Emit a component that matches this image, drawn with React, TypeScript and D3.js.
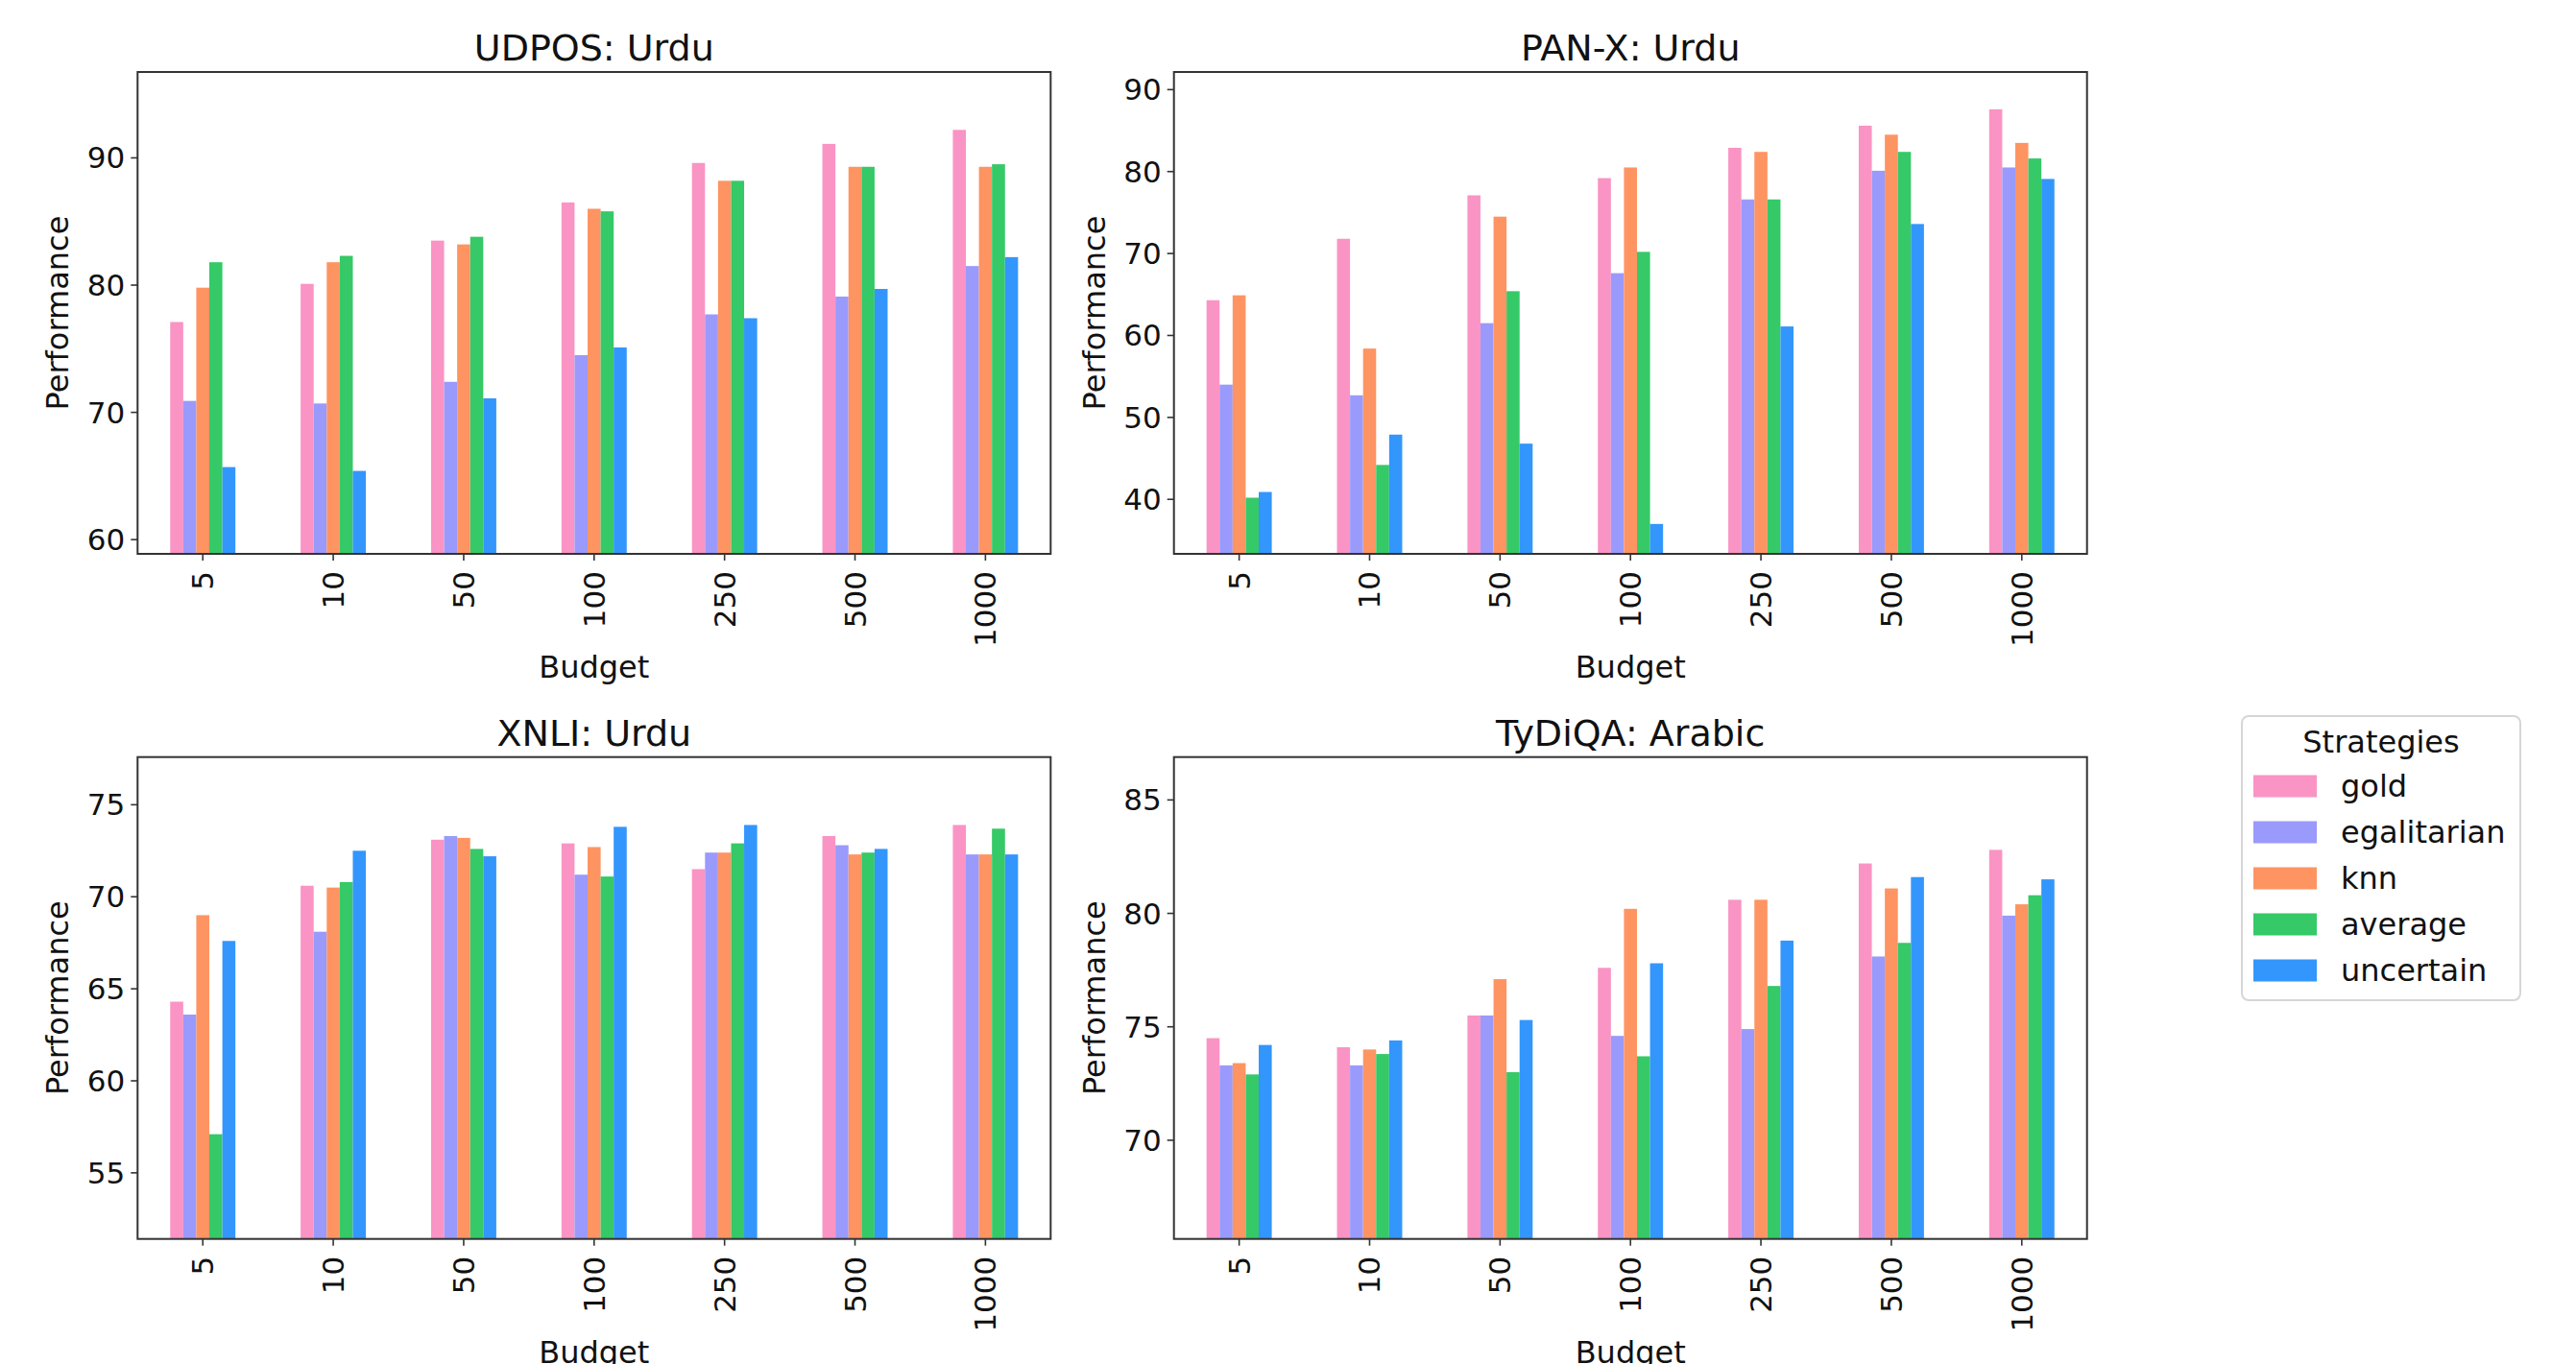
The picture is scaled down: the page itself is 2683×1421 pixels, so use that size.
import * as d3 from "d3";

const budgets = ["5", "10", "50", "100", "250", "500", "1000"];
const strategies = ["gold", "egalitarian", "knn", "average", "uncertain"];
const colors = ["#fa94c4", "#9a9afc", "#fe9462", "#35c967", "#3396fc"];

// one row per budget, columns follow `strategies`
const udpos = [
  [77.1, 70.9, 79.8, 81.8, 65.7],
  [80.1, 70.7, 81.8, 82.3, 65.4],
  [83.5, 72.4, 83.2, 83.8, 71.1],
  [86.5, 74.5, 86.0, 85.8, 75.1],
  [89.6, 77.7, 88.2, 88.2, 77.4],
  [91.1, 79.1, 89.3, 89.3, 79.7],
  [92.2, 81.5, 89.3, 89.5, 82.2],
];
const panx = [
  [64.3, 54.0, 64.9, 40.2, 40.9],
  [71.8, 52.7, 58.4, 44.2, 47.9],
  [77.1, 61.5, 74.5, 65.4, 46.8],
  [79.2, 67.6, 80.5, 70.2, 37.0],
  [82.9, 76.6, 82.4, 76.6, 61.1],
  [85.6, 80.1, 84.5, 82.4, 73.6],
  [87.6, 80.5, 83.5, 81.6, 79.1],
];
const xnli = [
  [64.3, 63.6, 69.0, 57.1, 67.6],
  [70.6, 68.1, 70.5, 70.8, 72.5],
  [73.1, 73.3, 73.2, 72.6, 72.2],
  [72.9, 71.2, 72.7, 71.1, 73.8],
  [71.5, 72.4, 72.4, 72.9, 73.9],
  [73.3, 72.8, 72.3, 72.4, 72.6],
  [73.9, 72.3, 72.3, 73.7, 72.3],
];
const tydiqa = [
  [74.5, 73.3, 73.4, 72.9, 74.2],
  [74.1, 73.3, 74.0, 73.8, 74.4],
  [75.5, 75.5, 77.1, 73.0, 75.3],
  [77.6, 74.6, 80.2, 73.7, 77.8],
  [80.6, 74.9, 80.6, 76.8, 78.8],
  [82.2, 78.1, 81.1, 78.7, 81.6],
  [82.8, 79.9, 80.4, 80.8, 81.5],
];

const udposTicks = [60, 70, 80, 90];
const panxTicks = [40, 50, 60, 70, 80, 90];
const xnliTicks = [55, 60, 65, 70, 75];
const tydiqaTicks = [70, 75, 80, 85];

const W = 951;
const H = 502;
const FONT = "'DejaVu Sans', sans-serif";

const panels = [
  { title: "UDPOS: Urdu", data: udpos, ticks: udposTicks, domain: [58.88, 96.75], x0: 143.3, y0: 75 },
  { title: "PAN-X: Urdu", data: panx, ticks: panxTicks, domain: [33.35, 92.15], x0: 1222.7, y0: 75 },
  { title: "XNLI: Urdu", data: xnli, ticks: xnliTicks, domain: [51.41, 77.59], x0: 143.3, y0: 788.7 },
  { title: "TyDiQA: Arabic", data: tydiqa, ticks: tydiqaTicks, domain: [65.65, 86.89], x0: 1222.7, y0: 788.7 },
];

function Panel({ p }) {
  const x = d3.scaleBand().domain(budgets).range([0, W]);
  const step = x.step();
  const sub = d3.scaleBand().domain(strategies).range([step * 0.25, step * 0.75]);
  const y = d3.scaleLinear().domain(p.domain).range([H, 0]);

  return (
    <g transform={`translate(${p.x0},${p.y0})`}>
      {p.data.map((row, i) =>
        row.map((v, j) => (
          <rect
            key={`${i}-${j}`}
            x={x(budgets[i]) + sub(strategies[j])}
            y={y(v)}
            width={sub.bandwidth()}
            height={H - y(v)}
            fill={colors[j]}
          />
        ))
      )}
      <rect x={0} y={0} width={W} height={H} fill="none" stroke="#333" strokeWidth={2} />
      {p.ticks.map((t) => (
        <g key={t} transform={`translate(0,${y(t)})`}>
          <line x1={-7} x2={0} stroke="#333" strokeWidth={1.6} />
          <text x={-13} dominantBaseline="central" textAnchor="end" fontSize={31} fontFamily={FONT} fill="#111">
            {t}
          </text>
        </g>
      ))}
      {budgets.map((b) => {
        const cx = x(b) + step / 2;
        return (
          <g key={b}>
            <line x1={cx} x2={cx} y1={H} y2={H + 7} stroke="#333" strokeWidth={1.6} />
            <text
              transform={`translate(${cx},${H + 18}) rotate(-90)`}
              textAnchor="end"
              dominantBaseline="central"
              fontSize={31}
              fontFamily={FONT}
              fill="#111"
            >
              {b}
            </text>
          </g>
        );
      })}
      <text x={W / 2} y={-12} textAnchor="middle" fontSize={38} fontFamily={FONT} fill="#111">
        {p.title}
      </text>
      <text
        transform={`translate(-83,${H / 2}) rotate(-90)`}
        textAnchor="middle"
        dominantBaseline="central"
        fontSize={32}
        fontFamily={FONT}
        fill="#111"
      >
        Performance
      </text>
      <text x={W / 2} y={H + 129} textAnchor="middle" fontSize={32} fontFamily={FONT} fill="#111">
        Budget
      </text>
    </g>
  );
}

function Legend() {
  const lx = 2335;
  const ly = 746;
  return (
    <g>
      <rect x={lx} y={ly} width={290} height={296} rx={7} fill="#fff" stroke="#d6d6d6" strokeWidth={2} />
      <text x={lx + 145} y={ly + 27} textAnchor="middle" dominantBaseline="central" fontSize={32} fontFamily={FONT} fill="#111">
        Strategies
      </text>
      {strategies.map((s, i) => (
        <g key={s} transform={`translate(${lx + 12},${ly + 73 + i * 48})`}>
          <rect x={0} y={-11.5} width={66} height={23} fill={colors[i]} />
          <text x={91} dominantBaseline="central" fontSize={32} fontFamily={FONT} fill="#111">
            {s}
          </text>
        </g>
      ))}
    </g>
  );
}

export default function App() {
  return (
    <svg
      width={2683}
      height={1421}
      style={{ position: "absolute", left: 0, top: 0, background: "#fff" }}
    >
      <rect width={2683} height={1421} fill="#fff" />
      {panels.map((p) => (
        <Panel key={p.title} p={p} />
      ))}
      <Legend />
    </svg>
  );
}
